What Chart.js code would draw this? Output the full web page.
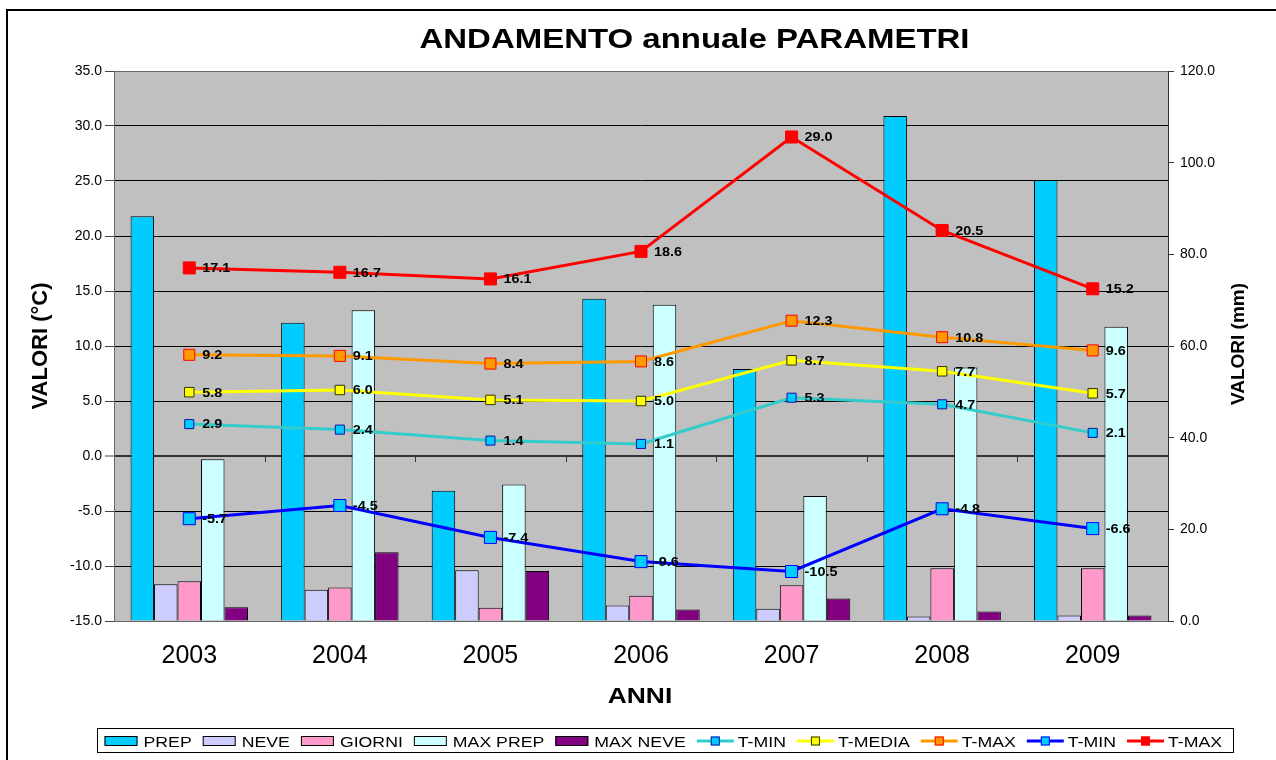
<!DOCTYPE html>
<html>
<head>
<meta charset="utf-8">
<script src="https://cdn.jsdelivr.net/npm/chart.js@4.4.1/dist/chart.umd.min.js"></script>
<style>
html,body{margin:0;padding:0;background:#fff;overflow:hidden}
#wrap{position:relative;width:1276px;height:760px}
canvas{display:block}
</style>
</head>
<body>
<div id="wrap"><canvas id="c" width="1276" height="760"></canvas></div>
<script>
// ---- DATA ----
const years = ['2003', '2004', '2005', '2006', '2007', '2008', '2009'];
// bars (mm, right axis)
const prep    = [88.3, 65.1, 28.4, 70.3, 55.0, 110.2, 96.2];
const neve    = [8.0, 6.8, 11.1, 3.4, 2.7, 1.0, 1.2];
const giorni  = [8.7, 7.3, 2.9, 5.5, 7.8, 11.5, 11.5];
const maxPrep = [35.3, 67.8, 29.8, 69.0, 27.3, 55.3, 64.2];
const maxNeve = [3.0, 15.0, 10.9, 2.5, 4.9, 2.1, 1.2];
// lines (°C, left axis)
const tMinMean  = [2.9, 2.4, 1.4, 1.1, 5.3, 4.7, 2.1];
const tMedia    = [5.8, 6.0, 5.1, 5.0, 8.7, 7.7, 5.7];
const tMaxMean  = [9.2, 9.1, 8.4, 8.6, 12.3, 10.8, 9.6];
const tMinAbs   = [-5.7, -4.5, -7.4, -9.6, -10.5, -4.8, -6.6];
const tMaxAbs   = [17.1, 16.7, 16.1, 18.6, 29.0, 20.5, 15.2];
// tick values
const leftTicks  = [-15, -10, -5, 0, 5, 10, 15, 20, 25, 30, 35];
const rightTicks = [0, 20, 40, 60, 80, 100, 120];

const FONT = "'Liberation Sans', Arial, Helvetica, sans-serif";
const SX = 1.2;

function barDs(label, data, color) {
  return { type: 'bar', label, data, yAxisID: 'y2', order: 1,
    backgroundColor: color, borderColor: '#000', borderWidth: 1,
    categoryPercentage: 0.78, barPercentage: 1.0 };
}
function lineDs(label, data, color, fill, border, r) {
  return { type: 'line', label, data, yAxisID: 'y', order: 0,
    borderColor: color, borderWidth: 3, backgroundColor: fill, fill: false, tension: 0,
    pointStyle: 'rect', pointRadius: r, pointHoverRadius: r,
    pointBackgroundColor: fill, pointBorderColor: border, pointBorderWidth: 1,
    legendMarker: r };
}

const datasets = [
  barDs('PREP', prep, '#00CCFF'),
  barDs('NEVE', neve, '#CCCCFF'),
  barDs('GIORNI', giorni, '#FF99CC'),
  barDs('MAX PREP', maxPrep, '#CCFFFF'),
  barDs('MAX NEVE', maxNeve, '#800080'),
  lineDs('T-MIN', tMinMean, '#33CCCC', '#00CCFF', '#1010A0', 6.4),
  lineDs('T-MEDIA', tMedia, '#FFFF00', '#FFFF00', '#333300', 6.7),
  lineDs('T-MAX', tMaxMean, '#FF9900', '#FF9900', '#FF0000', 7.8),
  lineDs('T-MIN', tMinAbs, '#0000FF', '#00CCFF', '#0000FF', 8.5),
  lineDs('T-MAX', tMaxAbs, '#FF0000', '#FF0000', '#FF0000', 8.5)
];

function sText(ctx, str, x, y, font, align, sx) {
  ctx.save();
  ctx.font = font;
  ctx.textAlign = align;
  ctx.textBaseline = 'alphabetic';
  ctx.translate(x, y);
  ctx.scale(sx, 1);
  ctx.fillText(str, 0, 0);
  ctx.restore();
}

const deco = {
  id: 'deco',
  beforeDraw(chart) {
    const { ctx, chartArea: a } = chart;
    ctx.save();
    ctx.fillStyle = '#fff';
    ctx.fillRect(0, 0, chart.width, chart.height);
    ctx.fillStyle = '#C0C0C0';
    ctx.fillRect(a.left, a.top, a.right - a.left, a.bottom - a.top);
    // outer chart border (extends beyond view)
    ctx.strokeStyle = '#000';
    ctx.lineWidth = 2;
    ctx.beginPath();
    ctx.moveTo(7, 800);
    ctx.lineTo(7, 10);
    ctx.lineTo(1300, 10);
    ctx.stroke();
    ctx.restore();
  },
  beforeDatasetsDraw(chart) {
    const { ctx } = chart;
    const xs = chart.scales.x, ys = chart.scales.y;
    const y0 = Math.round(ys.getPixelForValue(0));
    ctx.save();
    ctx.strokeStyle = '#333';
    ctx.lineWidth = 1;
    for (let i = 1; i < years.length; i++) {
      const px = Math.round((xs.getPixelForValue(i - 1) + xs.getPixelForValue(i)) / 2) + 0.5;
      ctx.beginPath();
      ctx.moveTo(px, y0);
      ctx.lineTo(px, y0 + 6);
      ctx.stroke();
    }
    ctx.restore();
  },
  afterDatasetsDraw(chart) {
    const { ctx } = chart;
    ctx.save();
    ctx.fillStyle = '#000';
    chart.data.datasets.forEach((ds, di) => {
      if (ds.type !== 'line') return;
      const meta = chart.getDatasetMeta(di);
      meta.data.forEach((pt, i) => {
        ctx.save();
        ctx.font = 'bold 12px ' + FONT;
        ctx.textAlign = 'left';
        ctx.textBaseline = 'middle';
        ctx.translate(pt.x + 13, pt.y + 1);
        ctx.scale(SX, 1);
        ctx.fillText(ds.data[i].toFixed(1), 0, 0);
        ctx.restore();
      });
    });
    ctx.restore();
  },
  afterDraw(chart) {
    const { ctx } = chart;
    ctx.save();
    ctx.fillStyle = '#000';
    // title
    ctx.font = 'bold 28px ' + FONT;
    const title = 'ANDAMENTO annuale PARAMETRI';
    const tw = ctx.measureText(title).width;
    sText(ctx, title, 694.5, 48, 'bold 28px ' + FONT, 'center', 550 / tw);
    // ANNI
    sText(ctx, 'ANNI', 640, 703, 'bold 22px ' + FONT, 'center', SX);
    // left axis title
    ctx.save();
    ctx.font = 'bold 22px ' + FONT;
    ctx.textAlign = 'center';
    ctx.textBaseline = 'alphabetic';
    ctx.translate(47, 346);
    ctx.rotate(-Math.PI / 2);
    ctx.fillText('VALORI (°C)', 0, 0);
    ctx.restore();
    // right axis title
    ctx.save();
    ctx.font = 'bold 19px ' + FONT;
    ctx.textAlign = 'center';
    ctx.textBaseline = 'alphabetic';
    ctx.translate(1244, 344);
    ctx.rotate(-Math.PI / 2);
    ctx.fillText('VALORI (mm)', 0, 0);
    ctx.restore();

    // legend
    ctx.fillStyle = '#fff';
    ctx.fillRect(97.5, 728.5, 1136, 24);
    ctx.strokeStyle = '#000';
    ctx.lineWidth = 1;
    ctx.strokeRect(97.5, 728.5, 1136, 24);
    const cy = 741;
    let x = 104.5;
    const lfont = '15px ' + FONT;
    chart.data.datasets.forEach((ds) => {
      if (ds.type === 'bar') {
        ctx.fillStyle = ds.backgroundColor;
        ctx.fillRect(x, cy - 4.5, 33, 9);
        ctx.strokeStyle = '#000';
        ctx.lineWidth = 1;
        ctx.strokeRect(x + 0.5, cy - 4.5, 32, 9);
        x += 33 + 6;
      } else {
        ctx.strokeStyle = ds.borderColor;
        ctx.lineWidth = 3;
        ctx.beginPath();
        ctx.moveTo(x, cy);
        ctx.lineTo(x + 37, cy);
        ctx.stroke();
        ctx.fillStyle = ds.pointBackgroundColor;
        ctx.fillRect(x + 14, cy - 4.5, 9, 9);
        ctx.strokeStyle = ds.pointBorderColor;
        ctx.lineWidth = 1;
        ctx.strokeRect(x + 14.5, cy - 4, 8, 8);
        x += 37 + 4;
      }
      ctx.fillStyle = '#000';
      ctx.font = lfont;
      const w = ctx.measureText(ds.label).width * 1.18;
      sText(ctx, ds.label, x, cy + 5.5, lfont, 'left', 1.18);
      x += w + 11;
    });
    ctx.restore();
  }
};

const fmt = v => Number(v).toFixed(1);

new Chart(document.getElementById('c'), {
  data: { labels: years, datasets },
  options: {
    responsive: false,
    animation: false,
    devicePixelRatio: 1,
    layout: { padding: { top: 71, left: 0, right: 0, bottom: 79 } },
    plugins: { legend: { display: false }, title: { display: false }, tooltip: { enabled: false } },
    scales: {
      x: {
        type: 'category', offset: true,
        grid: { display: false, drawTicks: false },
        border: { display: false },
        ticks: { font: { family: FONT, size: 25 }, color: '#000', padding: 20, maxRotation: 0, autoSkip: false },
        afterFit(s) { s.height = 60; }
      },
      y: {
        position: 'left', min: -15, max: 35,
        afterBuildTicks(s) { s.ticks = leftTicks.map(v => ({ value: v })); },
        ticks: { callback: fmt, font: { family: FONT, size: 14 }, color: '#000', padding: 3 },
        grid: {
          color(c) { const v = c.tick && c.tick.value; if (v === 35 || v === -15) return '#666'; if (v === 0) return '#333'; return '#000'; },
          lineWidth(c) { return (c.tick && c.tick.value === 0) ? 2 : 1; },
          tickLength: 9, tickColor: '#444', tickWidth: 1, drawTicks: true
        },
        border: { color: '#666', width: 1 },
        afterFit(s) { s.width = 114; }
      },
      y2: {
        position: 'right', min: 0, max: 120,
        afterBuildTicks(s) { s.ticks = rightTicks.map(v => ({ value: v })); },
        ticks: { callback: fmt, font: { family: FONT, size: 14 }, color: '#000', padding: 6 },
        grid: { drawOnChartArea: false, tickLength: 6, tickColor: '#333', tickWidth: 1 },
        border: { color: '#333', width: 1 },
        afterFit(s) { s.width = 108; }
      }
    }
  },
  plugins: [deco]
});
</script>
</body>
</html>
